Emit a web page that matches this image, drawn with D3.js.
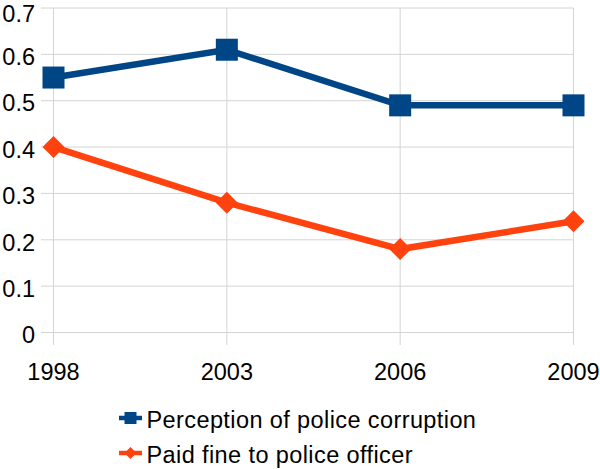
<!DOCTYPE html>
<html><head><meta charset="utf-8">
<script src="https://cdn.jsdelivr.net/npm/d3@7"></script>
<style>body{margin:0;background:#fff}svg{display:block}text{font-family:"Liberation Sans",Arial,sans-serif;fill:#000}</style>
</head><body><svg id="c" width="600" height="469"></svg>
<script>
const categories = ["1998", "2003", "2006", "2009"];
const perception = [0.55, 0.61, 0.49, 0.49];
const paidFine = [0.40, 0.28, 0.18, 0.24];
const yTicks = [0, 0.1, 0.2, 0.3, 0.4, 0.5, 0.6, 0.7];
const seriesNames = ["Perception of police corruption", "Paid fine to police officer"];
const colors = ["#004586", "#ff420e"];

const svg = d3.select("#c");
const x = d3.scalePoint().domain(categories).range([53.5, 573.5]);
const y = d3.scaleLinear().domain([0, 0.7]).range([332.5, 8]);
const grid = "#d4d4d4";
const fs = 23.5;

// horizontal gridlines
svg.append("g").selectAll("line").data(yTicks).join("line")
  .attr("x1", 41).attr("x2", 573.5)
  .attr("y1", d => y(d)).attr("y2", d => y(d))
  .attr("stroke", grid).attr("stroke-width", 1);
// vertical gridlines
svg.append("g").selectAll("line").data(categories).join("line")
  .attr("x1", d => x(d)).attr("x2", d => x(d))
  .attr("y1", y(0.7)).attr("y2", 345)
  .attr("stroke", grid).attr("stroke-width", 1);

// y labels
svg.append("g").selectAll("text").data(yTicks).join("text")
  .attr("x", 35).attr("y", d => Math.max(y(d) + 2.5, 13.5)).attr("dy", "0.35em")
  .attr("text-anchor", "end").style("font-size", fs + "px")
  .text(d => d === 0 ? "0" : d3.format(".1f")(d));
// x labels
svg.append("g").selectAll("text").data(categories).join("text")
  .attr("x", d => x(d)).attr("y", 379.5)
  .attr("text-anchor", "middle").style("font-size", fs + "px")
  .text(d => d);

const line = d3.line().x((d, i) => x(categories[i])).y(d => y(d));
const series = [perception, paidFine];
series.forEach((s, k) => {
  svg.append("path").datum(s).attr("d", line)
    .attr("fill", "none").attr("stroke", colors[k]).attr("stroke-width", 6.5)
    .attr("stroke-linejoin", "miter");
});
// markers
svg.append("g").selectAll("rect").data(perception).join("rect")
  .attr("x", (d, i) => x(categories[i]) - 11).attr("y", d => y(d) - 11)
  .attr("width", 22).attr("height", 22).attr("fill", colors[0]);
svg.append("g").selectAll("path").data(paidFine).join("path")
  .attr("transform", (d, i) => `translate(${x(categories[i])},${y(d)})`)
  .attr("d", "M0,-11L11,0L0,11L-11,0Z").attr("fill", colors[1]);

// legend
const ly = [418, 453];
seriesNames.forEach((n, k) => {
  const g = svg.append("g");
  g.append("line").attr("x1", 119).attr("x2", 142).attr("y1", ly[k]).attr("y2", ly[k])
    .attr("stroke", colors[k]).attr("stroke-width", 4.5);
  if (k === 0) g.append("rect").attr("x", 124.5).attr("y", ly[k] - 6).attr("width", 12).attr("height", 12).attr("fill", colors[k]);
  else g.append("path").attr("transform", `translate(130.5,${ly[k]})`).attr("d", "M0,-6L6,0L0,6L-6,0Z").attr("fill", colors[k]);
  g.append("text").attr("x", 146.5).attr("y", ly[k] + 9.5).style("font-size", fs + "px")
    .style("letter-spacing", "0.4px").text(n);
});
</script></body></html>
